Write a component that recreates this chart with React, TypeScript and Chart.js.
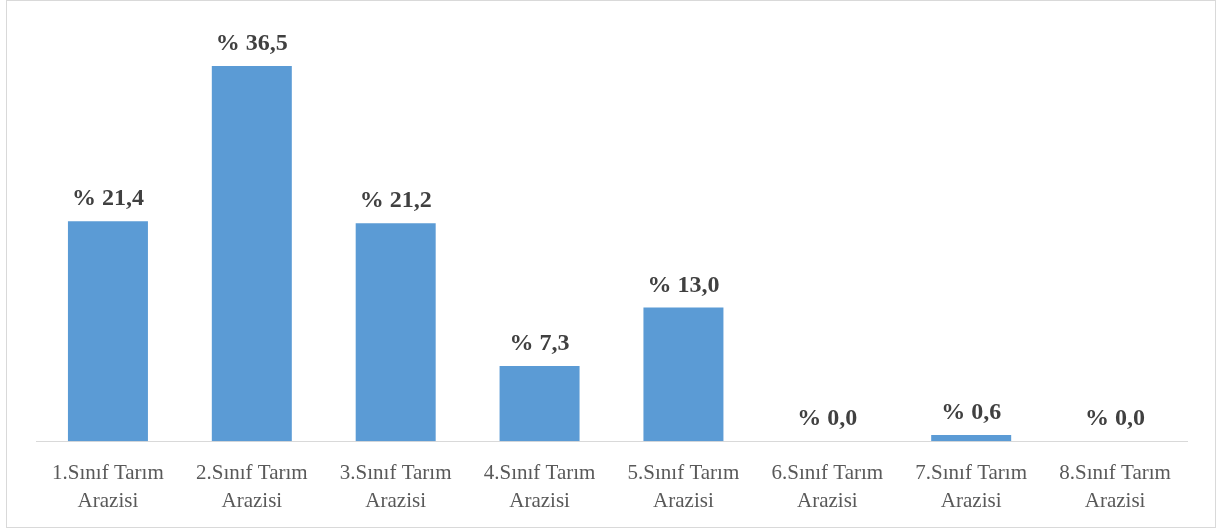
import React, { useEffect, useRef } from "react";
import { Chart, registerables } from "chart.js";

Chart.register(...registerables);

const categories: string[][] = [
  ["1.Sınıf Tarım", "Arazisi"],
  ["2.Sınıf Tarım", "Arazisi"],
  ["3.Sınıf Tarım", "Arazisi"],
  ["4.Sınıf Tarım", "Arazisi"],
  ["5.Sınıf Tarım", "Arazisi"],
  ["6.Sınıf Tarım", "Arazisi"],
  ["7.Sınıf Tarım", "Arazisi"],
  ["8.Sınıf Tarım", "Arazisi"],
];
const values: number[] = [21.4, 36.5, 21.2, 7.3, 13.0, 0.0, 0.6, 0.0];

const SERIF = "'Times New Roman', 'Liberation Serif', serif";

const labelPlugin = {
  id: "barLabels",
  afterDatasetsDraw(chart: any) {
    const ctx = chart.ctx;
    const meta = chart.getDatasetMeta(0);
    ctx.save();
    ctx.font = "bold 24px " + SERIF;
    ctx.fillStyle = "#404040";
    ctx.textAlign = "center";
    ctx.textBaseline = "alphabetic";
    meta.data.forEach((bar: any, i: number) => {
      const v = values[i];
      const txt = "% " + v.toFixed(1).replace(".", ",");
      ctx.fillText(txt, bar.x, bar.y - 16);
    });
    ctx.restore();
  },
};

export default function App() {
  const ref = useRef<HTMLCanvasElement>(null);
  useEffect(() => {
    if (!ref.current) return;
    const chart = new Chart(ref.current, {
      type: "bar",
      data: {
        labels: categories,
        datasets: [
          {
            data: values,
            backgroundColor: "#5b9bd5",
            borderWidth: 0,
            barPercentage: 1,
            categoryPercentage: 0.556,
          },
        ],
      },
      options: {
        animation: false,
        responsive: true,
        maintainAspectRatio: false,
        layout: { padding: { left: 29, right: 28, top: 29, bottom: -6 } },
        plugins: {
          legend: { display: false },
          tooltip: { enabled: false },
        },
        scales: {
          x: {
            grid: { display: false, drawTicks: false },
            border: { display: true, color: "#d9d9d9", width: 1 },
            ticks: {
              color: "#595959",
              font: { family: SERIF, size: 21, lineHeight: 1.33 },
              padding: 18,
              maxRotation: 0,
              minRotation: 0,
              autoSkip: false,
            },
          },
          y: {
            display: false,
            min: 0,
            max: 40,
          },
        },
      },
      plugins: [labelPlugin],
    });
    return () => chart.destroy();
  }, []);
  return (
    <div
      style={{
        position: "absolute",
        left: 6,
        top: 0,
        width: 1210,
        height: 528,
        boxSizing: "border-box",
        border: "1px solid #d9d9d9",
        background: "#fff",
      }}
    >
      <canvas ref={ref} />
    </div>
  );
}
